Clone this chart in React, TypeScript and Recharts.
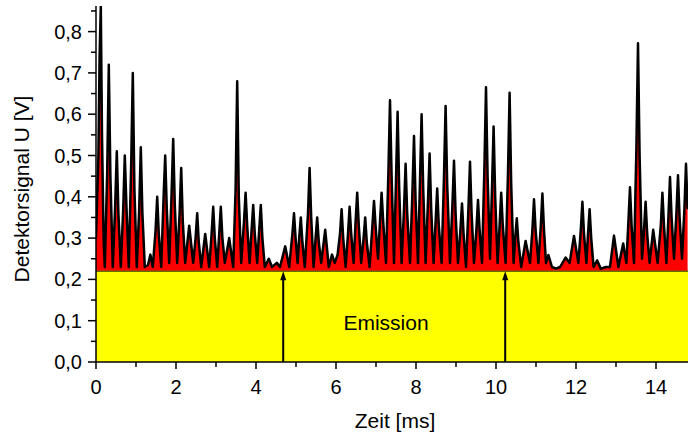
import React from "react";
import {
  ComposedChart,
  Area,
  XAxis,
  YAxis,
  ReferenceArea,
  ReferenceLine,
  ReferenceDot,
} from "recharts";

// Zeit [ms]
const timeMs = [
  0.0, 0.06, 0.09, 0.12, 0.15, 0.19, 0.22, 0.28, 0.32, 0.36,
  0.42, 0.48, 0.52, 0.56, 0.62, 0.68, 0.72, 0.76, 0.82, 0.88,
  0.92, 0.96, 1.02, 1.08, 1.12, 1.16, 1.22, 1.3, 1.36, 1.42,
  1.49, 1.53, 1.57, 1.63, 1.69, 1.73, 1.77, 1.83, 1.89, 1.93,
  1.97, 2.03, 2.09, 2.13, 2.17, 2.23, 2.33, 2.43, 2.49, 2.53,
  2.57, 2.63, 2.73, 2.83, 2.89, 2.93, 2.97, 3.03, 3.08, 3.12,
  3.16, 3.22, 3.33, 3.43, 3.49, 3.53, 3.57, 3.63, 3.7, 3.74,
  3.78, 3.84, 3.89, 3.93, 3.97, 4.03, 4.08, 4.12, 4.16, 4.22,
  4.32, 4.4, 4.52, 4.6, 4.73, 4.83, 4.91, 4.95, 4.99, 5.04,
  5.08, 5.12, 5.16, 5.22, 5.3, 5.34, 5.38, 5.44, 5.49, 5.53,
  5.57, 5.63, 5.73, 5.82, 5.9, 5.97, 6.04, 6.1, 6.14, 6.18,
  6.24, 6.3, 6.34, 6.38, 6.44, 6.49, 6.53, 6.57, 6.63, 6.69,
  6.73, 6.77, 6.84, 6.91, 6.95, 6.99, 7.05, 7.1, 7.14, 7.18,
  7.25, 7.31, 7.35, 7.39, 7.45, 7.5, 7.54, 7.58, 7.64, 7.7,
  7.74, 7.78, 7.85, 7.91, 7.95, 7.99, 8.05, 8.1, 8.14, 8.18,
  8.24, 8.3, 8.34, 8.38, 8.44, 8.49, 8.53, 8.57, 8.64, 8.7,
  8.74, 8.78, 8.85, 8.91, 8.95, 8.99, 9.05, 9.11, 9.15, 9.19,
  9.25, 9.31, 9.35, 9.39, 9.45, 9.51, 9.55, 9.59, 9.65, 9.71,
  9.75, 9.79, 9.85, 9.9, 9.94, 9.98, 10.04, 10.09, 10.13, 10.17,
  10.24, 10.3, 10.34, 10.38, 10.44, 10.48, 10.52, 10.56, 10.63, 10.74,
  10.85, 10.91, 10.95, 10.99, 11.06, 11.12, 11.16, 11.2, 11.25, 11.31,
  11.4, 11.5, 11.6, 11.74, 11.84, 11.95, 12.06, 12.12, 12.16, 12.2,
  12.26, 12.3, 12.34, 12.38, 12.44, 12.53, 12.62, 12.75, 12.85, 12.95,
  13.06, 13.18, 13.26, 13.31, 13.35, 13.39, 13.45, 13.51, 13.55, 13.59,
  13.65, 13.7, 13.74, 13.78, 13.84, 13.93, 14.04, 14.12, 14.16, 14.2,
  14.26, 14.31, 14.35, 14.39, 14.45, 14.51, 14.55, 14.59, 14.65, 14.71,
  14.75, 14.79,
];

// Detektorsignal U [V]
const signalV = [
  0.3, 0.5, 0.74, 0.86, 0.55, 0.3, 0.23, 0.46, 0.72, 0.45,
  0.23, 0.38, 0.51, 0.36, 0.23, 0.37, 0.5, 0.38, 0.23, 0.48,
  0.7, 0.42, 0.23, 0.37, 0.52, 0.36, 0.23, 0.235, 0.26, 0.23,
  0.32, 0.4, 0.31, 0.23, 0.4, 0.5, 0.37, 0.24, 0.41, 0.54,
  0.38, 0.24, 0.36, 0.47, 0.34, 0.24, 0.33, 0.24, 0.3, 0.36,
  0.29, 0.23, 0.31, 0.23, 0.31, 0.376, 0.3, 0.23, 0.31, 0.376,
  0.3, 0.24, 0.3, 0.23, 0.42, 0.68, 0.4, 0.24, 0.34, 0.41,
  0.33, 0.24, 0.32, 0.38, 0.31, 0.24, 0.32, 0.38, 0.3, 0.23,
  0.25, 0.23, 0.24, 0.23, 0.28, 0.23, 0.31, 0.36, 0.3, 0.24,
  0.3, 0.35, 0.29, 0.23, 0.36, 0.47, 0.35, 0.23, 0.3, 0.35,
  0.29, 0.24, 0.32, 0.23, 0.26, 0.24, 0.26, 0.31, 0.37, 0.3,
  0.23, 0.31, 0.376, 0.31, 0.24, 0.34, 0.41, 0.33, 0.24, 0.3,
  0.35, 0.29, 0.23, 0.33, 0.39, 0.33, 0.25, 0.34, 0.41, 0.34,
  0.24, 0.46, 0.634, 0.45, 0.24, 0.44, 0.606, 0.42, 0.24, 0.37,
  0.48, 0.36, 0.24, 0.41, 0.547, 0.39, 0.24, 0.44, 0.6, 0.42,
  0.24, 0.39, 0.505, 0.37, 0.24, 0.34, 0.42, 0.33, 0.24, 0.45,
  0.62, 0.43, 0.24, 0.38, 0.487, 0.36, 0.24, 0.32, 0.384, 0.31,
  0.23, 0.37, 0.485, 0.36, 0.24, 0.32, 0.392, 0.32, 0.24, 0.47,
  0.665, 0.45, 0.25, 0.42, 0.57, 0.4, 0.24, 0.33, 0.41, 0.33,
  0.24, 0.46, 0.652, 0.43, 0.24, 0.3, 0.348, 0.29, 0.23, 0.293,
  0.24, 0.32, 0.394, 0.32, 0.24, 0.33, 0.408, 0.32, 0.24, 0.259,
  0.23, 0.226, 0.23, 0.253, 0.24, 0.305, 0.24, 0.32, 0.388, 0.31,
  0.24, 0.31, 0.37, 0.3, 0.23, 0.246, 0.226, 0.23, 0.23, 0.306,
  0.23, 0.287, 0.24, 0.34, 0.423, 0.33, 0.24, 0.52, 0.772, 0.5,
  0.25, 0.32, 0.388, 0.31, 0.24, 0.32, 0.24, 0.33, 0.41, 0.33,
  0.24, 0.35, 0.448, 0.35, 0.25, 0.36, 0.452, 0.35, 0.25, 0.37,
  0.48, 0.37,
];

const xTicks = [0, 1, 2, 3, 4, 5, 6, 7, 8, 9, 10, 11, 12, 13, 14];
const yTicks = [0, 0.05, 0.1, 0.15, 0.2, 0.25, 0.3, 0.35, 0.4, 0.45, 0.5, 0.55, 0.6, 0.65, 0.7, 0.75, 0.8, 0.85];
const emissionStart = 4.68;
const emissionEnd = 10.23;
const backgroundLevel = 0.22;
const emissionLabel = { t: 7.25, v: 0.095, text: "Emission" };
const xTitle = "Zeit [ms]";
const yTitle = "Detektorsignal U [V]";

const data = timeMs.map((t, i) => ({ t, v: signalV[i] }));

const FONT = "'Liberation Sans', Arial, Helvetica, sans-serif";

const XTick = (props: any) => {
  const { x, y, payload } = props;
  const v = payload.value;
  const major = Math.round(v) % 2 === 0;
  return (
    <g>
      <line x1={x} x2={x} y1={y} y2={y + (major ? 7 : 5)} stroke="#000" strokeWidth={1.5} />
      {major && (
        <text x={x} y={y + 32} textAnchor="middle" fontFamily={FONT} fontSize={20} fill="#000">
          {String(v)}
        </text>
      )}
    </g>
  );
};

const YTick = (props: any) => {
  const { x, y, payload } = props;
  const v = payload.value;
  const major = Math.round(v * 100) % 10 === 0;
  return (
    <g>
      <line x1={x - (major ? 8 : 5)} x2={x} y1={y} y2={y} stroke="#000" strokeWidth={1.5} />
      {major && (
        <text x={x - 14} y={y + 7} textAnchor="end" fontFamily={FONT} fontSize={20} fill="#000">
          {v.toFixed(1).replace(".", ",")}
        </text>
      )}
    </g>
  );
};

const ArrowHead = (props: any) => {
  const { cx, cy } = props;
  return <polygon points={`${cx},${cy} ${cx - 3},${cy + 9} ${cx + 3},${cy + 9}`} fill="#000" />;
};

const EmissionText = (props: any) => {
  const { cx, cy } = props;
  return (
    <text x={cx} y={cy + 7} textAnchor="middle" fontFamily={FONT} fontSize={21} fill="#000">
      {emissionLabel.text}
    </text>
  );
};

export default function App() {
  return (
    <div style={{ position: "absolute", left: 0, top: 0, width: 688, height: 434, background: "#fff" }}>
      <ComposedChart width={688} height={434} data={data} margin={{ top: 6, right: 0, left: 0, bottom: 0 }}>
        <XAxis
          xAxisId="top"
          orientation="top"
          type="number"
          dataKey="t"
          domain={[0, 14.8]}
          ticks={xTicks}
          interval={0}
          mirror
          tick={false}
          tickSize={3}
          height={0}
          axisLine={{ stroke: "#000", strokeWidth: 1.5 }}
          tickLine={{ stroke: "#000", strokeWidth: 1 }}
          allowDataOverflow
        />
        <XAxis
          type="number"
          dataKey="t"
          domain={[0, 14.8]}
          ticks={xTicks}
          interval={0}
          height={72}
          tickSize={0}
          tickMargin={0}
          tickLine={false}
          tick={<XTick />}
          axisLine={{ stroke: "#000", strokeWidth: 1.5 }}
          allowDataOverflow
          label={{
            content: (p: any) => {
              const vb = p.viewBox || {};
              return (
                <text
                  x={vb.x + vb.width / 2 + 3}
                  y={428}
                  textAnchor="middle"
                  fontFamily={FONT}
                  fontSize={21}
                  fill="#000"
                >
                  {xTitle}
                </text>
              );
            },
          }}
        />
        <YAxis
          type="number"
          domain={[0, 0.862]}
          ticks={yTicks}
          interval={0}
          width={96}
          tickSize={0}
          tickMargin={0}
          tickLine={false}
          tick={<YTick />}
          axisLine={{ stroke: "#000", strokeWidth: 1.5 }}
          allowDataOverflow
          label={{
            content: (p: any) => {
              const vb = p.viewBox || {};
              const cx = 21;
              const cy = vb.y + vb.height / 2 + 5;
              return (
                <text
                  x={cx}
                  y={cy}
                  transform={`rotate(-90 ${cx} ${cy})`}
                  textAnchor="middle"
                  dominantBaseline="central"
                  fontFamily={FONT}
                  fontSize={21}
                  fill="#000"
                >
                  {yTitle}
                </text>
              );
            },
          }}
        />
        <ReferenceArea
          x1={0}
          x2={14.8}
          y1={0}
          y2={backgroundLevel}
          fill="#ffff00"
          fillOpacity={1}
          stroke="none"
        />
        <Area
          type="linear"
          dataKey="v"
          baseValue={backgroundLevel}
          stroke="#000"
          strokeWidth={2.5}
          strokeLinejoin="round"
          fill="#ff0000"
          fillOpacity={1}
          isAnimationActive={false}
          dot={false}
          activeDot={false}
        />
        <ReferenceLine y={backgroundLevel} stroke="#6b6b00" strokeWidth={1.5} />
        <ReferenceLine
          segment={[
            { x: emissionStart, y: 0 },
            { x: emissionStart, y: backgroundLevel - 0.01 },
          ]}
          stroke="#000"
          strokeWidth={2}
        />
        <ReferenceLine
          segment={[
            { x: emissionEnd, y: 0 },
            { x: emissionEnd, y: backgroundLevel - 0.01 },
          ]}
          stroke="#000"
          strokeWidth={2}
        />
        <ReferenceDot x={emissionStart} y={backgroundLevel} r={0} shape={<ArrowHead />} />
        <ReferenceDot x={emissionEnd} y={backgroundLevel} r={0} shape={<ArrowHead />} />
        <ReferenceDot x={emissionLabel.t} y={emissionLabel.v} r={0} shape={<EmissionText />} />
      </ComposedChart>
    </div>
  );
}
